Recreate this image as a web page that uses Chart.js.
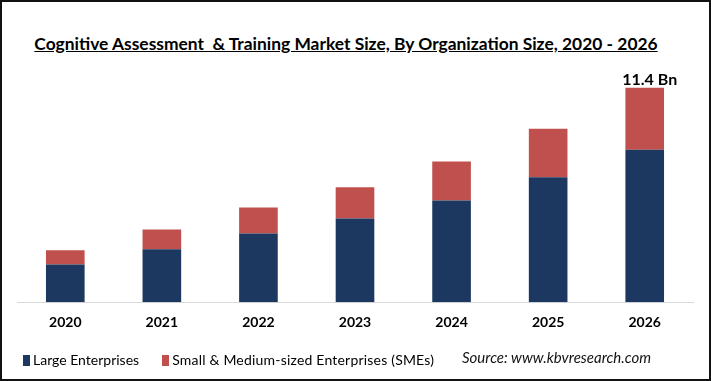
<!DOCTYPE html>
<html lang="en">
<head>
    <meta charset="utf-8">
    <title>Cognitive Assessment & Training Market Size</title>
    <style>
      * {
        margin: 0;
        padding: 0;
      }
      body {
        background: #fff;
        font-family: Lato, sans-serif;
      }
      .frame {
        position: relative;
        width: 711px;
        height: 381px;
        overflow: hidden;
      }
      .frame canvas {
        position: absolute;
        left: 0;
        top: 0;
      }
      .border {
        position: absolute;
        inset: 0;
        border: 2px solid #111;
        pointer-events: none;
      }
      .title {
        position: absolute;
        top: 33px;
        left: 0;
        width: 692px;
        text-align: center;
        font-size: 17.4px;
        font-weight: bold;
        text-decoration: underline;
        white-space: pre;
        color: #000;
      }
      .legend {
        position: absolute;
        top: 349px;
        left: 23px;
        font-size: 14px;
        color: #000;
        line-height: 18px;
        white-space: nowrap;
      }
      .legend span {
        display: inline-block;
        vertical-align: middle;
      }
      .legend .box {
        width: 7px;
        height: 11px;
        margin-right: 3px;
      }
      .legend .item {
        margin-right: 23px;
      }
      .legend .item:last-child span:last-child {
        letter-spacing: 0.2px;
      }
      .source {
        position: absolute;
        left: 462px;
        top: 348px;
        font-size: 15px;
        font-style: italic;
        color: #111;
      }
    </style>
</head>
<body>
    <div class="frame">
      <div class="title">Cognitive Assessment  &amp; Training Market Size, By Organization Size, 2020 - 2026</div>
      <canvas id="marketChart" width="711" height="381"></canvas>
      <div class="legend" id="legend"></div>
      <div class="source">Source: www.kbvresearch.com</div>
      <div class="border"></div>
    </div>
    <script src="https://cdn.jsdelivr.net/npm/chart.js/dist/chart.umd.min.js"></script>
    <script>
        // values in USD billion
        const years = ['2020', '2021', '2022', '2023', '2024', '2025', '2026'];
        const largeEnterprises = [2.01, 2.81, 3.66, 4.45, 5.41, 6.64, 8.11];
        const smes = [0.75, 1.06, 1.38, 1.66, 2.07, 2.59, 3.29];
        const totalLabel = '11.4 Bn';

        // writes the total above the last bar
        const totalLabelPlugin = {
            id: 'totalLabel',
            afterDatasetsDraw(chart) {
                const meta = chart.getDatasetMeta(1);
                const bar = meta.data[meta.data.length - 1];
                const ctx = chart.ctx;
                ctx.save();
                ctx.font = 'bold 16px Lato, sans-serif';
                ctx.fillStyle = '#000';
                ctx.textAlign = 'center';
                ctx.textBaseline = 'alphabetic';
                ctx.fillText(totalLabel, bar.x + 5, bar.y - 3);
                ctx.restore();
            }
        };

        const chart = new Chart(document.getElementById('marketChart'), {
            type: 'bar',
            data: {
                labels: years,
                datasets: [{
                    label: 'Large Enterprises',
                    data: largeEnterprises,
                    backgroundColor: '#1c3861'
                },
                {
                    label: 'Small & Medium-sized Enterprises (SMEs)',
                    data: smes,
                    backgroundColor: '#c0504d'
                }]
            },
            options: {
                responsive: false,
                animation: false,
                barPercentage: 0.4,
                categoryPercentage: 1,
                layout: {
                    padding: { left: 17, right: 18, top: 70, bottom: 38 }
                },
                scales: {
                    x: {
                        stacked: true,
                        grid: { display: false, drawTicks: false },
                        border: { display: true, color: '#d9d9d9', width: 1 },
                        ticks: {
                            color: '#000',
                            padding: 12,
                            font: { family: 'Lato', size: 14, weight: 'bold' }
                        }
                    },
                    y: {
                        stacked: true,
                        display: false,
                        min: 0,
                        max: 12.35
                    }
                },
                plugins: {
                    legend: { display: false },
                    tooltip: { enabled: false }
                }
            },
            plugins: [totalLabelPlugin]
        });

        // html legend built from the datasets
        const legendEl = document.getElementById('legend');
        chart.data.datasets.forEach(ds => {
            const item = document.createElement('span');
            item.className = 'item';
            const box = document.createElement('span');
            box.className = 'box';
            box.style.background = ds.backgroundColor;
            const text = document.createElement('span');
            text.textContent = ds.label;
            item.appendChild(box);
            item.appendChild(text);
            legendEl.appendChild(item);
        });
    </script>
</body>
</html>
